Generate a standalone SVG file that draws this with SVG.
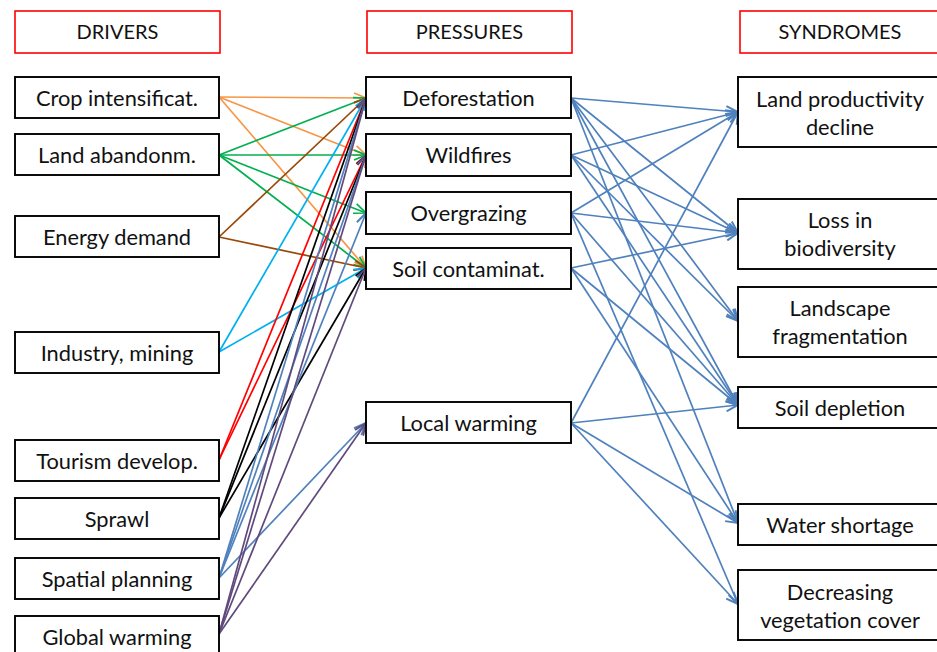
<svg xmlns="http://www.w3.org/2000/svg" width="937" height="652" viewBox="0 0 937 652">
<style>
  .hdr rect { fill:#fff; stroke:#FF0000; stroke-width:1.6; }
  .node rect { fill:#fff; stroke:#000; stroke-width:1.9; }
  text { font-family:"Lato","Open Sans","Liberation Sans",sans-serif; font-size:21.8px; fill:#111; text-anchor:middle; }
  .hdr text { font-size:20px; }
  .c path { fill:none; stroke-width:1.7; }
  .or { stroke:#F79646; } .gr { stroke:#00B050; } .br { stroke:#984807; } .cy { stroke:#00B0F0; }
  .rd { stroke:#FF0000; } .bk { stroke:#000000; } .bl { stroke:#4F81BD; } .pu { stroke:#604A7B; }
</style>
<defs>
  <marker id="m-or" viewBox="0 0 14 12" refX="13" refY="6" markerWidth="14" markerHeight="12" markerUnits="userSpaceOnUse" orient="auto"><path d="M1,1 L13,6 L1,11" fill="none" stroke="#F79646" stroke-width="1.7"/></marker>
  <marker id="m-gr" viewBox="0 0 14 12" refX="13" refY="6" markerWidth="14" markerHeight="12" markerUnits="userSpaceOnUse" orient="auto"><path d="M1,1 L13,6 L1,11" fill="none" stroke="#00B050" stroke-width="1.7"/></marker>
  <marker id="m-br" viewBox="0 0 14 12" refX="13" refY="6" markerWidth="14" markerHeight="12" markerUnits="userSpaceOnUse" orient="auto"><path d="M1,1 L13,6 L1,11" fill="none" stroke="#984807" stroke-width="1.7"/></marker>
  <marker id="m-cy" viewBox="0 0 14 12" refX="13" refY="6" markerWidth="14" markerHeight="12" markerUnits="userSpaceOnUse" orient="auto"><path d="M1,1 L13,6 L1,11" fill="none" stroke="#00B0F0" stroke-width="1.7"/></marker>
  <marker id="m-rd" viewBox="0 0 14 12" refX="13" refY="6" markerWidth="14" markerHeight="12" markerUnits="userSpaceOnUse" orient="auto"><path d="M1,1 L13,6 L1,11" fill="none" stroke="#FF0000" stroke-width="1.7"/></marker>
  <marker id="m-bk" viewBox="0 0 14 12" refX="13" refY="6" markerWidth="14" markerHeight="12" markerUnits="userSpaceOnUse" orient="auto"><path d="M1,1 L13,6 L1,11" fill="none" stroke="#000000" stroke-width="1.7"/></marker>
  <marker id="m-bl" viewBox="0 0 14 12" refX="13" refY="6" markerWidth="14" markerHeight="12" markerUnits="userSpaceOnUse" orient="auto"><path d="M1,1 L13,6 L1,11" fill="none" stroke="#4F81BD" stroke-width="2"/></marker>
  <marker id="m-pu" viewBox="0 0 14 12" refX="13" refY="6" markerWidth="14" markerHeight="12" markerUnits="userSpaceOnUse" orient="auto"><path d="M1,1 L13,6 L1,11" fill="none" stroke="#604A7B" stroke-width="1.7"/></marker>
</defs>
<rect width="937" height="652" fill="#fff"/>

<g id="connectors" class="c">
  <!-- Crop intensificat. -->
  <path class="or" d="M219,97 L366,98" marker-end="url(#m-or)"/>
  <path class="or" d="M219,97 L366,155" marker-end="url(#m-or)"/>
  <path class="or" d="M219,97 L366,268" marker-end="url(#m-or)"/>
  <!-- Land abandonm. -->
  <path class="gr" d="M219,155 L366,98" marker-end="url(#m-gr)"/>
  <path class="gr" d="M219,155 L366,155" marker-end="url(#m-gr)"/>
  <path class="gr" d="M219,155 L366,213" marker-end="url(#m-gr)"/>
  <path class="gr" d="M219,155 L366,268" marker-end="url(#m-gr)"/>
  <!-- Energy demand -->
  <path class="br" d="M219,237 L366,98" marker-end="url(#m-br)"/>
  <path class="br" d="M219,237 L366,268" marker-end="url(#m-br)"/>
  <!-- Industry, mining -->
  <path class="cy" d="M219,352 L366,98" marker-end="url(#m-cy)"/>
  <path class="cy" d="M219,352 L366,268" marker-end="url(#m-cy)"/>
  <!-- Tourism develop. -->
  <path class="rd" d="M219,460 L366,98" marker-end="url(#m-rd)"/>
  <path class="rd" d="M219,460 L366,155" marker-end="url(#m-rd)"/>
  <!-- Sprawl -->
  <path class="bk" d="M219,518 L366,98" marker-end="url(#m-bk)"/>
  <path class="bk" d="M219,518 L366,155" marker-end="url(#m-bk)"/>
  <path class="bk" d="M219,518 L366,268" marker-end="url(#m-bk)"/>
  <!-- Spatial planning -->
  <path class="bl" d="M219,578 L366,98" marker-end="url(#m-bl)"/>
  <path class="bl" d="M219,578 L366,155" marker-end="url(#m-bl)"/>
  <path class="bl" d="M219,578 L366,213" marker-end="url(#m-bl)"/>
  <path class="bl" d="M219,578 L366,423" marker-end="url(#m-bl)"/>
  <!-- Global warming -->
  <path class="pu" d="M219,634 L366,98" marker-end="url(#m-pu)"/>
  <path class="pu" d="M219,634 L366,155" marker-end="url(#m-pu)"/>
  <path class="pu" d="M219,634 L366,268" marker-end="url(#m-pu)"/>
  <path class="pu" d="M219,634 L366,423" marker-end="url(#m-pu)"/>

  <!-- Deforestation -->
  <path class="bl" d="M571,98 L738,112" marker-end="url(#m-bl)"/>
  <path class="bl" d="M571,98 L738,233" marker-end="url(#m-bl)"/>
  <path class="bl" d="M571,98 L738,321" marker-end="url(#m-bl)"/>
  <path class="bl" d="M571,98 L738,405" marker-end="url(#m-bl)"/>
  <path class="bl" d="M571,98 L738,523" marker-end="url(#m-bl)"/>
  <!-- Wildfires -->
  <path class="bl" d="M571,155 L738,112" marker-end="url(#m-bl)"/>
  <path class="bl" d="M571,155 L738,233" marker-end="url(#m-bl)"/>
  <path class="bl" d="M571,155 L738,321" marker-end="url(#m-bl)"/>
  <path class="bl" d="M571,155 L738,405" marker-end="url(#m-bl)"/>
  <!-- Overgrazing -->
  <path class="bl" d="M571,213 L738,112" marker-end="url(#m-bl)"/>
  <path class="bl" d="M571,213 L738,233" marker-end="url(#m-bl)"/>
  <path class="bl" d="M571,213 L738,405" marker-end="url(#m-bl)"/>
  <path class="bl" d="M571,213 L738,604" marker-end="url(#m-bl)"/>
  <!-- Soil contaminat. -->
  <path class="bl" d="M571,268 L738,233" marker-end="url(#m-bl)"/>
  <path class="bl" d="M571,268 L738,405" marker-end="url(#m-bl)"/>
  <path class="bl" d="M571,268 L738,523" marker-end="url(#m-bl)"/>
  <!-- Local warming -->
  <path class="bl" d="M571,423 L738,112" marker-end="url(#m-bl)"/>
  <path class="bl" d="M571,423 L738,405" marker-end="url(#m-bl)"/>
  <path class="bl" d="M571,423 L738,523" marker-end="url(#m-bl)"/>
  <path class="bl" d="M571,423 L738,604" marker-end="url(#m-bl)"/>
</g>

<g id="hdr-drivers" class="hdr"><rect x="15" y="11" width="205" height="42"/><text x="117.5" y="39">DRIVERS</text></g>
<g id="hdr-pressures" class="hdr"><rect x="367" y="11" width="205" height="42"/><text x="469.5" y="39">PRESSURES</text></g>
<g id="hdr-syndromes" class="hdr"><rect x="740" y="11" width="205" height="42"/><text x="840" y="39">SYNDROMES</text></g>

<g id="d-crop" class="node"><rect x="15" y="77" width="204" height="41"/><text x="117" y="105.5">Crop intensificat.</text></g>
<g id="d-land" class="node"><rect x="15" y="134" width="204" height="41"/><text x="117" y="162.5">Land abandonm.</text></g>
<g id="d-energy" class="node"><rect x="15" y="216" width="204" height="41"/><text x="117" y="244.5">Energy demand</text></g>
<g id="d-industry" class="node"><rect x="15" y="332" width="204" height="41"/><text x="117" y="360.5">Industry, mining</text></g>
<g id="d-tourism" class="node"><rect x="15" y="440" width="204" height="41"/><text x="117" y="468.5">Tourism develop.</text></g>
<g id="d-sprawl" class="node"><rect x="15" y="498" width="204" height="41"/><text x="117" y="526.5">Sprawl</text></g>
<g id="d-spatial" class="node"><rect x="15" y="558" width="204" height="41"/><text x="117" y="586.5">Spatial planning</text></g>
<g id="d-global" class="node"><rect x="15" y="616" width="204" height="41"/><text x="117" y="644.5">Global warming</text></g>

<g id="p-defor" class="node"><rect x="366" y="77" width="205" height="41"/><text x="468.5" y="105.5">Deforestation</text></g>
<g id="p-wild" class="node"><rect x="366" y="134" width="205" height="42"/><text x="468.5" y="162.5">Wildfires</text></g>
<g id="p-over" class="node"><rect x="366" y="192" width="205" height="42"/><text x="468.5" y="220.5">Overgrazing</text></g>
<g id="p-soil" class="node"><rect x="366" y="248" width="205" height="41"/><text x="468.5" y="276.5">Soil contaminat.</text></g>
<g id="p-local" class="node"><rect x="366" y="402" width="205" height="41"/><text x="468.5" y="430.5">Local warming</text></g>

<g id="s-lpd" class="node"><rect x="738" y="77" width="205" height="70"/><text x="840" y="106.5">Land productivity</text><text x="840" y="134.5">decline</text></g>
<g id="s-loss" class="node"><rect x="738" y="199" width="205" height="70"/><text x="840" y="227.5">Loss in</text><text x="840" y="255.5">biodiversity</text></g>
<g id="s-land" class="node"><rect x="738" y="287" width="205" height="70"/><text x="840" y="315.5">Landscape</text><text x="840" y="343.5">fragmentation</text></g>
<g id="s-soil" class="node"><rect x="738" y="387" width="205" height="41"/><text x="840" y="415.5">Soil depletion</text></g>
<g id="s-water" class="node"><rect x="738" y="504" width="205" height="41"/><text x="840" y="532.5">Water shortage</text></g>
<g id="s-veg" class="node"><rect x="738" y="570" width="205" height="70"/><text x="840" y="599.5">Decreasing</text><text x="840" y="627.5">vegetation cover</text></g>
</svg>
